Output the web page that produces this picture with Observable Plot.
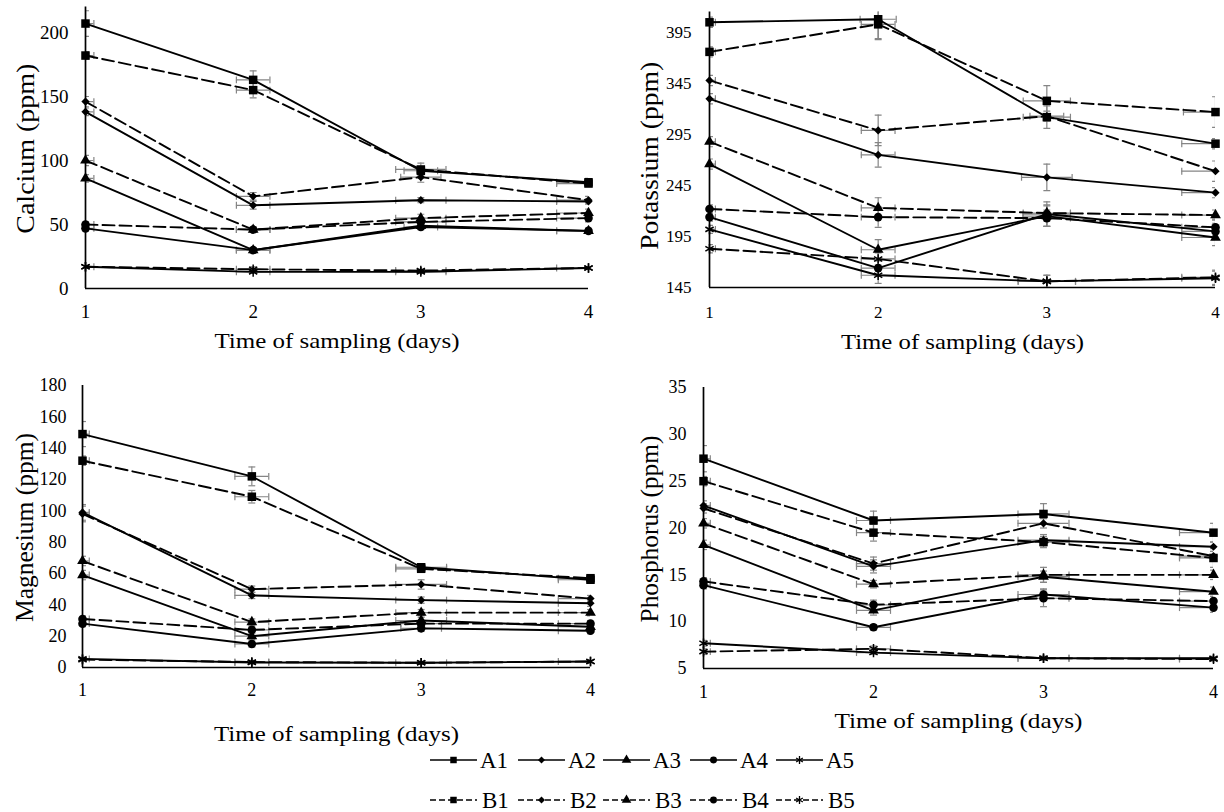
<!DOCTYPE html>
<html><head><meta charset="utf-8">
<script src="https://cdn.jsdelivr.net/npm/d3@7"></script>
<script src="https://cdn.jsdelivr.net/npm/@observablehq/plot@0.6"></script>
<style>
body{margin:0;background:#fff;}
#chart{position:relative;width:1224px;height:812px;background:#fff;}
#chart > svg{position:absolute;overflow:visible;}
#chart svg, #chart svg text{font-family:"Liberation Serif","Times New Roman","DejaVu Serif",serif !important;}
</style></head><body><div id="chart"></div>
<script>
// ---------------- data ----------------
const days = [1, 2, 3, 4];
const seriesA = ["A1", "A2", "A3", "A4", "A5"];
const seriesB = ["B1", "B2", "B3", "B4", "B5"];
const xTitle = "Time of sampling (days)";

const calciumTicks = [0, 50, 100, 150, 200];
const calcium = {
  A1: [207, 163, 92, 83], B1: [182, 155, 93, 82],
  A2: [138, 65, 69, 68],  B2: [146, 72, 87, 69],
  A3: [86, 30, 49, 45],   B3: [100, 46, 55, 59],
  A4: [47, 30, 48, 45],   B4: [50, 46, 52, 55],
  A5: [17, 13, 13, 16],   B5: [17, 15, 14, 16]
};
// [series, day, y error, x error]
const calciumErr = [
  ["A1",1,10,0.05],["B1",1,3,0.05],["B2",1,4,0.05],["A2",1,3,0.05],["B3",1,4,0.05],["A3",1,3,0.05],["B4",1,2,0.05],["A4",1,2,0.05],["A5",1,1,0.05],
  ["A1",2,7,0.1],["B1",2,6,0.1],["B2",2,3,0.1],["A2",2,3,0.1],["B3",2,2,0.1],["B4",2,2,0.1],["A3",2,2,0.1],["A4",2,2,0.1],["A5",2,1,0.1],["B5",2,2,0.1],
  ["B1",3,5,0.15],["A1",3,3,0.1],["B2",3,4,0.12],["A2",3,2,0.15],["B3",3,3,0.15],["B4",3,3,0.15],["A4",3,2,0.1],["A5",3,1,0.15],["B5",3,1,0.15],
  ["A1",4,3,0.19],["B1",4,2,0.19],["A2",4,2,0.19],["B2",4,3,0.19],["B3",4,3,0.19],["B4",4,3,0.19],["A3",4,2,0.19],["A4",4,2,0.19],["A5",4,1,0.19]
];

const potassiumTicks = [145, 195, 245, 295, 345, 395];
const potassium = {
  A1: [405, 408, 312, 286], B1: [376, 403, 328, 317],
  A2: [330, 275, 253, 238], B2: [348, 299, 313, 259],
  A3: [266, 182, 215, 194], B3: [288, 223, 218, 216],
  A4: [214, 164, 217, 200], B4: [222, 214, 213, 204],
  A5: [202, 157, 151, 154], B5: [183, 173, 151, 155]
};
const potassiumErr = [
  ["A1",1,5,0.035],["B1",1,5,0.035],["B2",1,5,0.035],["A2",1,5,0.035],["B3",1,5,0.035],["A3",1,5,0.035],["B4",1,4,0.035],["A4",1,4,0.035],["A5",1,4,0.035],["B5",1,4,0.035],
  ["A1",2,19,0.107],["B1",2,15,0.1],["B2",2,15,0.1],["A2",2,12,0.1],["B3",2,10,0.1],["B4",2,10,0.1],["A3",2,10,0.1],["A4",2,7,0.1],["A5",2,8,0.1],["B5",2,6,0.1],
  ["B1",3,15,0.14],["A1",3,11,0.14],["B2",3,5,0.1],["A2",3,13,0.15],["A3",3,10,0.14],["A4",3,12,0.14],["B3",3,8,0.14],["B4",3,8,0.14],["A5",3,6,0.17],["B5",3,6,0.17],
  ["B1",4,15,0.19],["A1",4,5,0.2],["B2",4,10,0.2],["A2",4,5,0.2],["B3",4,5,0.2],["B4",4,8,0.2],["A4",4,8,0.2],["A3",4,8,0.2],["A5",4,7,0.2],["B5",4,7,0.2]
];

const magnesiumTicks = [0, 20, 40, 60, 80, 100, 120, 140, 160, 180];
const magnesium = {
  A1: [149, 122, 64, 56],   B1: [132, 109, 63, 57],
  A2: [99, 46, 43, 41],     B2: [98, 50, 53, 44],
  A3: [59, 20, 30, 26],     B3: [68, 29, 35, 35],
  A4: [28, 15, 25, 23.5],   B4: [31, 24, 28, 28],
  A5: [5.5, 3.2, 3, 3.8],   B5: [5, 3.5, 3, 3.8]
};
const magnesiumErr = [
  ["A1",1,8,0.04],["B1",1,3,0.04],["A2",1,5,0.04],["B2",1,5,0.04],["B3",1,3,0.04],["A3",1,3,0.04],["B4",1,2,0.04],["A4",1,2,0.04],["A5",1,1,0.04],
  ["A1",2,6,0.1],["B1",2,4,0.1],["B2",2,2,0.1],["A2",2,2,0.1],["B3",2,2,0.1],["B4",2,2,0.1],["A3",2,2,0.1],["A4",2,2,0.1],["A5",2,1,0.1],["B5",2,1,0.1],
  ["A1",3,2,0.15],["B1",3,2,0.15],["B2",3,3,0.15],["A2",3,2,0.15],["B3",3,2,0.15],["A3",3,2,0.15],["B4",3,2,0.12],["A4",3,2,0.12],["A5",3,1,0.15],
  ["A1",4,2,0.19],["B1",4,2,0.19],["B2",4,2,0.19],["A2",4,2,0.19],["B3",4,2,0.19],["B4",4,2,0.19],["A3",4,2,0.19],["A4",4,2,0.19],["A5",4,1,0.19]
];

const phosphorusTicks = [5, 10, 15, 20, 25, 30, 35];
const phosphorus = {
  A1: [27.4, 20.8, 21.5, 19.5], B1: [25.0, 19.5, 18.5, 16.8],
  A2: [22.4, 15.9, 18.7, 18.0], B2: [22.1, 16.2, 20.5, 17.0],
  A3: [18.2, 11.2, 14.8, 13.2], B3: [20.5, 14.0, 15.0, 15.0],
  A4: [13.9, 9.4, 12.9, 11.5],  B4: [14.3, 11.8, 12.5, 12.2],
  A5: [7.7, 6.7, 6.1, 6.1],     B5: [6.8, 7.1, 6.1, 6.0]
};
const phosphorusErr = [
  ["A1",1,1.4,0.04],["B1",1,0.5,0.04],["A2",1,0.5,0.04],["B2",1,0.5,0.04],["B3",1,0.5,0.04],["A3",1,0.5,0.04],["B4",1,0.4,0.04],["A4",1,0.4,0.04],["A5",1,0.3,0.04],["B5",1,0.3,0.04],
  ["A1",2,1,0.1],["B1",2,0.9,0.1],["A2",2,0.7,0.1],["B2",2,0.7,0.1],["B3",2,0.4,0.1],["B4",2,0.5,0.1],["A3",2,0.5,0.1],["A4",2,0.3,0.1],["A5",2,0.2,0.1],["B5",2,0.3,0.1],
  ["A1",3,1.1,0.15],["B2",3,0.5,0.15],["A2",3,0.6,0.15],["B1",3,0.6,0.15],["B3",3,0.8,0.15],["A3",3,0.6,0.15],["B4",3,0.9,0.15],["A4",3,0.6,0.15],["A5",3,0.2,0.15],["B5",3,0.2,0.15],
  ["A1",4,1,0.2],["B1",4,1,0.2],["B2",4,0.5,0.2],["A2",4,0.5,0.2],["B3",4,0.5,0.2],["A3",4,0.5,0.2],["B4",4,0.5,0.2],["A4",4,0.5,0.2],["A5",4,0.2,0.2],["B5",4,0.2,0.2]
];

// ---------------- styles / layout ----------------
const FONT = "'Liberation Serif', 'Times New Roman', 'DejaVu Serif', serif";
const symbolNames = ["square", "diamond2", "triangle", "circle", "asterisk"];
const symbolR = [4.8, 3.7, 4.0, 4.3, 4.5];
const errColor = "#858585";

const panels = [
  {title: "Calcium (ppm)", data: calcium, err: calciumErr, ticks: calciumTicks, domain: [0, 220],
   box: {x: 0, y: 0, w: 612, h: 362}, frame: {l: 85, r: 588, t: 6.4, b: 288},
   tickFont: 19, xPad: 16, yPad: 17, xDy: 52, xLen: 245, yDx: -60, yDy: 1, yLen: 170},
  {title: "Potassium (ppm)", data: potassium, err: potassiumErr, ticks: potassiumTicks, domain: [145, 415],
   box: {x: 612, y: 0, w: 612, h: 362}, frame: {l: 709, r: 1215, t: 11.6, b: 287},
   tickFont: 17, xPad: 18, yPad: 18, xDy: 54, xLen: 243, yDx: -60, yDy: 6, yLen: 188},
  {title: "Magnesium (ppm)", data: magnesium, err: magnesiumErr, ticks: magnesiumTicks, domain: [0, 180],
   box: {x: 0, y: 362, w: 612, h: 385}, frame: {l: 82, r: 590, t: 385, b: 667},
   tickFont: 18, xPad: 16, yPad: 16, xDy: 66, xLen: 245, yDx: -58, yDy: 1, yLen: 189},
  {title: "Phosphorus (ppm)", data: phosphorus, err: phosphorusErr, ticks: phosphorusTicks, domain: [5, 35],
   box: {x: 612, y: 362, w: 612, h: 385}, frame: {l: 703, r: 1213, t: 387, b: 668},
   tickFont: 18, xPad: 17, yPad: 17, xDy: 52, xLen: 248, yDx: -54, yDy: 1, yLen: 187}
];

const hcap = {draw(ctx, size) { const w = Math.sqrt(size) / 2; ctx.moveTo(-w, 0); ctx.lineTo(w, 0); }};
const vcap = {draw(ctx, size) { const w = Math.sqrt(size) / 2; ctx.moveTo(0, -w); ctx.lineTo(0, w); }};

const chart = document.getElementById("chart");

function buildPanel(p) {
  const rows = [];
  for (const s of [...seriesA, ...seriesB]) {
    p.data[s].forEach((v, i) => rows.push({s, day: days[i], v, dashed: s[0] === "B"}));
  }
  const lookup = new Map(rows.map(d => [d.s + "|" + d.day, d]));
  const errs = p.err.map(([s, day, ey, ex]) => ({...lookup.get(s + "|" + day), ey, ex}));
  const errStyle = {stroke: errColor, strokeWidth: 1.2, clip: true};
  const capStyle = {stroke: errColor, strokeWidth: 1.2, fill: "none", r: 3.9, clip: true};

  const marks = [
    Plot.ruleX(errs, {x: "day", y1: d => d.v - d.ey, y2: d => d.v + d.ey, ...errStyle}),
    Plot.dot(errs, {x: "day", y: d => d.v + d.ey, symbol: hcap, ...capStyle}),
    Plot.dot(errs, {x: "day", y: d => d.v - d.ey, symbol: hcap, ...capStyle}),
    Plot.ruleY(errs, {y: "v", x1: d => d.day - d.ex, x2: d => d.day + d.ex, ...errStyle}),
    Plot.dot(errs, {x: d => d.day - d.ex, y: "v", symbol: vcap, ...capStyle}),
    Plot.dot(errs, {x: d => d.day + d.ex, y: "v", symbol: vcap, ...capStyle}),
    Plot.ruleX([days[0]], {stroke: "black", strokeWidth: 1.7}),
    Plot.ruleY([p.domain[0]], {stroke: "black", strokeWidth: 1.7}),
    Plot.line(rows.filter(d => !d.dashed), {x: "day", y: "v", z: "s", stroke: "black", strokeWidth: 1.9}),
    Plot.line(rows.filter(d => d.dashed), {x: "day", y: "v", z: "s", stroke: "black", strokeWidth: 1.9, strokeDasharray: "12,5"}),
    ...symbolNames.map((sym, k) => Plot.dot(rows.filter(d => d.s[1] === String(k + 1)), {
      x: "day", y: "v", symbol: sym, r: symbolR[k],
      fill: k === 4 ? "none" : "black", stroke: k === 4 ? "black" : "none", strokeWidth: 1.5
    })),
    Plot.text([xTitle], {frameAnchor: "bottom", lineAnchor: "middle", textAnchor: "middle", dy: p.xDy, fontSize: 22, fill: "black", fontFamily: FONT}),
    Plot.text([p.title], {frameAnchor: "left", lineAnchor: "middle", textAnchor: "middle", dx: p.yDx, dy: p.yDy, rotate: -90, fontSize: 26, fill: "black", fontFamily: FONT})
  ];

  const f = p.frame, b = p.box;
  const svg = Plot.plot({
    width: b.w, height: b.h,
    marginLeft: f.l - b.x, marginRight: b.x + b.w - f.r,
    marginTop: f.t - b.y, marginBottom: b.y + b.h - f.b,
    style: {fontFamily: FONT, fontSize: p.tickFont + "px", color: "black", background: "transparent", overflow: "visible"},
    x: {domain: [days[0], days[days.length - 1]], ticks: days, tickSize: 0, tickPadding: p.xPad, label: null, tickFormat: d => String(d)},
    y: {domain: p.domain, ticks: p.ticks, tickSize: 0, tickPadding: p.yPad, label: null},
    marks
  });
  svg.style.left = b.x + "px";
  svg.style.top = b.y + "px";
  d3.select(svg).selectAll("text").each(function () {
    if (this.textContent === xTitle) d3.select(this).attr("textLength", p.xLen).attr("lengthAdjust", "spacingAndGlyphs");
    if (this.textContent === p.title) d3.select(this).attr("textLength", p.yLen).attr("lengthAdjust", "spacingAndGlyphs");
  });
  chart.appendChild(svg);
}
panels.forEach(buildPanel);

// ---------------- legend ----------------
const legendRows = [seriesA, seriesB];
const legendX = [430, 518, 603, 690, 776];
const legendY = [13, 53];
const legendSymbols = [d3.symbolSquare, d3.symbolDiamond2, d3.symbolTriangle, d3.symbolCircle, d3.symbolAsterisk];
const legendSizes = [42, 32, 40, 38, 42];
const leg = d3.select(chart).append("svg")
  .attr("width", 1224).attr("height", 65)
  .style("left", "0px").style("top", "747px")
  .attr("font-family", FONT).attr("font-size", 23);
legendRows.forEach((row, ri) => row.forEach((s, i) => {
  const x0 = legendX[i], y = legendY[ri];
  leg.append("line").attr("x1", x0).attr("x2", x0 + 47).attr("y1", y).attr("y2", y)
    .attr("stroke", "black").attr("stroke-width", 1.6).attr("stroke-dasharray", ri ? "6,3" : null);
  leg.append("path").attr("transform", `translate(${x0 + 23.5},${y})`)
    .attr("d", d3.symbol(legendSymbols[i], legendSizes[i])())
    .attr("fill", i === 4 ? "none" : "black").attr("stroke", i === 4 ? "black" : "none").attr("stroke-width", 1.3);
  leg.append("text").attr("x", x0 + 50 + (ri ? 2 : 0)).attr("y", y).attr("dy", "0.35em").attr("fill", "black").text(s);
}));
</script>
</body></html>
